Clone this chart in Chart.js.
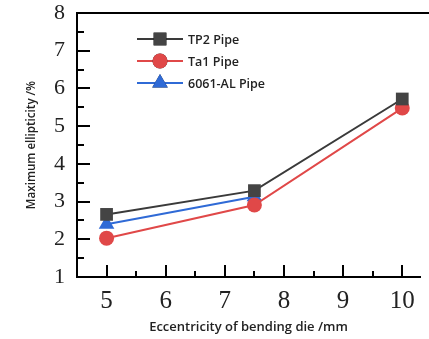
<!DOCTYPE html>
<html>
<head>
<meta charset="utf-8">
<script src="https://cdn.jsdelivr.net/npm/chart.js@4"></script>
<style>
  html, body { margin: 0; padding: 0; background: #fff; overflow: hidden; }
  #wrap { width: 429px; height: 339px; }
</style>
</head>
<body>
<div id="wrap"><canvas id="chart" width="429" height="339"></canvas></div>
<script>
// Data
const eccentricity = [5, 7.5, 10];
const tp2Pipe = [2.66, 3.29, 5.72];
const ta1Pipe = [2.03, 2.91, 5.48];
const alPipe = [2.4, 3.13, null];

const xTicks = [5, 6, 7, 8, 9, 10];
const yTicks = [1, 2, 3, 4, 5, 6, 7, 8];

const toPts = (vals) => eccentricity.map((x, i) => ({ x, y: vals[i] })).filter(p => p.y !== null);

// Inward major/minor ticks, top frame line and the inset legend
const framePlugin = {
  id: 'frame',
  afterDraw(chart) {
    const { ctx, chartArea: a, scales: { x, y } } = chart;
    ctx.save();
    ctx.strokeStyle = '#000';
    ctx.lineWidth = 2;
    ctx.beginPath();
    ctx.moveTo(a.left - 1, a.top);
    ctx.lineTo(chart.width, a.top);
    for (let v = 1; v <= 8; v += 0.5) {
      const py = Math.round(y.getPixelForValue(v));
      const len = Number.isInteger(v) ? 13 : 7;
      ctx.moveTo(a.left, py);
      ctx.lineTo(a.left + len, py);
    }
    for (let v = 5; v <= 10; v += 0.5) {
      const px = Math.round(x.getPixelForValue(v));
      const len = Number.isInteger(v) ? 12 : 6;
      ctx.moveTo(px, a.bottom);
      ctx.lineTo(px, a.bottom - len);
    }
    ctx.stroke();

    // legend
    const rows = [39, 61, 83];
    ctx.font = '600 12.5px "Open Sans", sans-serif';
    ctx.textBaseline = 'middle';
    chart.data.datasets.forEach((ds, i) => {
      const ry = rows[i];
      ctx.strokeStyle = ds.borderColor;
      ctx.lineWidth = 2;
      ctx.beginPath();
      ctx.moveTo(137, ry);
      ctx.lineTo(183, ry);
      ctx.stroke();
      Chart.helpers.drawPoint(ctx, {
        pointStyle: ds.pointStyle, radius: ds.pointRadius, borderWidth: 0, rotation: 0
      }, 160, ry);
      ctx.fillStyle = ds.pointBackgroundColor;
      ctx.fill();
      ctx.fillStyle = '#222';
      ctx.fillText(ds.label, 188, ry + 1);
    });
    ctx.restore();
  }
};

const noPad = (s) => { s.paddingLeft = 0; s.paddingRight = 0; s.paddingTop = 0; s.paddingBottom = 0; };

new Chart(document.getElementById('chart'), {
  type: 'line',
  data: {
    datasets: [
      { label: 'TP2 Pipe', data: toPts(tp2Pipe), borderColor: '#3a3a3a', backgroundColor: '#444',
        pointBackgroundColor: '#444', pointBorderWidth: 0, pointStyle: 'rect', pointRadius: 9, borderWidth: 2 },
      { label: 'Ta1 Pipe', data: toPts(ta1Pipe), borderColor: '#e04848', backgroundColor: '#e04848',
        pointBackgroundColor: '#e04848', pointBorderWidth: 0, pointStyle: 'circle', pointRadius: 7.5, borderWidth: 2 },
      { label: '6061-AL Pipe', data: toPts(alPipe), borderColor: '#2f6ad6', backgroundColor: '#2f6ad6',
        pointBackgroundColor: '#2f6ad6', pointBorderWidth: 0, pointStyle: 'triangle', pointRadius: 9, borderWidth: 2 },
    ],
  },
  options: {
    responsive: false,
    animation: false,
    layout: { padding: { top: 13, right: 0, left: 0, bottom: 0 } },
    plugins: { legend: { display: false }, tooltip: { enabled: false } },
    scales: {
      x: {
        type: 'linear', min: 4.5, max: 10.3,
        afterBuildTicks: (s) => { s.ticks = xTicks.map(v => ({ value: v })); },
        afterFit: (s) => { s.height = 62; noPad(s); },
        grid: { display: false, drawTicks: false },
        border: { color: '#000', width: 2 },
        ticks: { color: '#222', padding: 9, font: { family: '"Liberation Serif", serif', size: 25 } },
        title: { display: true, text: 'Eccentricity of bending die /mm', color: '#222',
          padding: { top: 0, bottom: 4 }, font: { family: '"Open Sans", sans-serif', size: 13, weight: 600 } },
      },
      y: {
        min: 1, max: 8,
        afterBuildTicks: (s) => { s.ticks = yTicks.map(v => ({ value: v })); },
        afterFit: (s) => { s.width = 77; noPad(s); },
        grid: { display: false, drawTicks: false },
        border: { color: '#000', width: 2 },
        ticks: { color: '#222', padding: 12, font: { family: '"Liberation Serif", serif', size: 22 } },
        title: { display: true, text: 'Maximum ellipticity /%', color: '#222',
          padding: { top: 25, bottom: 0 }, font: { family: '"Open Sans", sans-serif', size: 11.6, weight: 600 } },
      },
    },
  },
  plugins: [framePlugin],
});
</script>
</body>
</html>
